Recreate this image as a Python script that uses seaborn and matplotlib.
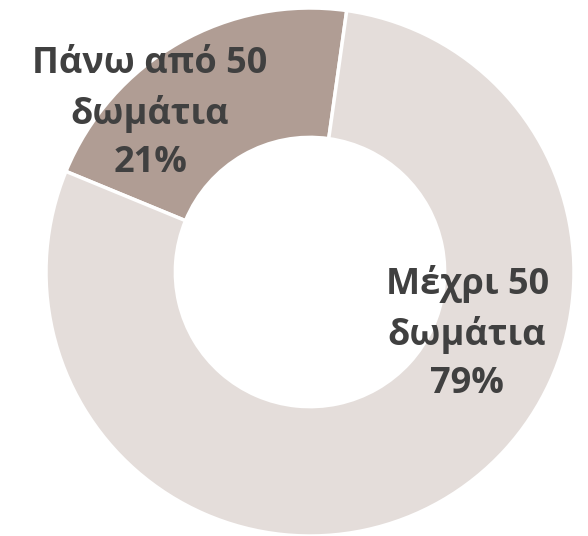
import matplotlib
matplotlib.use("Agg")
import matplotlib.pyplot as plt
import seaborn as sns

categories = ["Πάνω από 50\nδωμάτια", "Μέχρι 50\nδωμάτια"]
values = [21, 79]
colors = ["#B09D94", "#E4DDDA"]

sns.set_theme(style="white")
plt.rcParams['font.family'] = ['Open Sans', 'DejaVu Sans']

fig = plt.figure(figsize=(5.88, 5.36), dpi=100)
ax = fig.add_axes([(310 - 264) / 588, (536 - 272 - 264) / 536, 528 / 588, 528 / 536])

wedges, _ = ax.pie(values, colors=colors, startangle=82, counterclock=True,
                   radius=1.0,
                   wedgeprops=dict(width=0.49, edgecolor="white", linewidth=2.5))
ax.set_xlim(-1, 1)
ax.set_ylim(-1, 1)
ax.set_aspect("equal")
ax.axis("off")

label_pos = [(-0.606, 0.60), (0.595, -0.233)]
for cat, val, (x, y) in zip(categories, values, label_pos):
    ax.text(x, y, f"{cat}\n{val}%", ha="center", va="center",
            fontsize=26, fontweight="bold", color="#404040",
            linespacing=1.45)

fig.savefig("out.png", dpi=100)
